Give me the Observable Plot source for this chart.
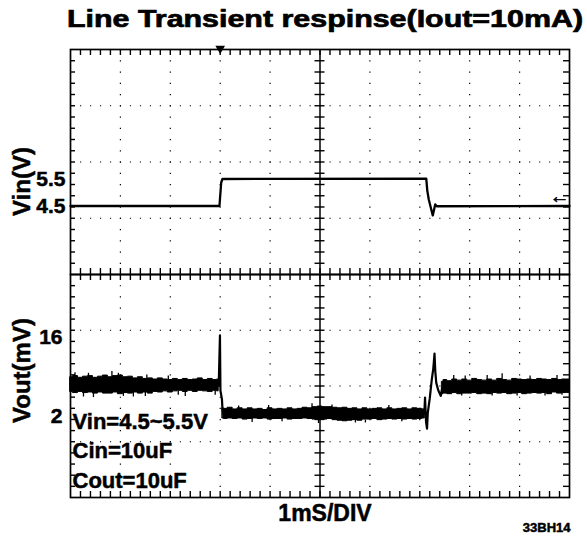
<!DOCTYPE html>
<html><head><meta charset="utf-8">
<script src="https://cdn.jsdelivr.net/npm/d3@7"></script>
<script src="https://cdn.jsdelivr.net/npm/@observablehq/plot@0.6"></script>
<style>
body{margin:0;background:#fff;}
#wrap{position:relative;width:587px;height:537px;overflow:hidden;font-family:"Liberation Sans",Arial,sans-serif;}
#title{position:absolute;left:0;top:0;}
#upper{position:absolute;left:0;top:43px;}
#lower{position:absolute;left:0;top:274px;}
</style></head><body>
<div id="wrap">
<svg id="title" width="587" height="43"><text x="67" y="27" font-family="Liberation Sans, Arial, sans-serif" font-weight="bold" font-size="24" stroke="#000" stroke-width="0.7" textLength="516" lengthAdjust="spacingAndGlyphs">Line Transient respinse(Iout=10mA)</text></svg>
<div id="upper"></div><div id="lower"></div>
</div>
<script>
// ---- data (time in ms, Vin in V, Vout ripple in mV) ----
const timeDomain = [0, 10];
const vinDomain = [1.96, 10.3];
const voutDomain = [-12.4, 27.1];
const vinTicks = [4.5, 5.5];
const voutTicks = [2, 16];
const trigTime = [3];
const trigLevel = [4.85];

const vinTime = [0, 2.985, 3.02, 3.045, 7.13, 7.15, 7.18, 7.26, 7.31, 7.34, 10];
const vinVolt = [4.5, 4.5, 5.37, 5.5, 5.51, 5.07, 4.74, 4.15, 4.56, 4.49, 4.5];

// noise band envelope of Vout (hi / lo edges), three steady segments
const bandTimeA = [0,0.1,0.2,0.3,0.4,0.5,0.6,0.7,0.8,0.9,1.0,1.1,1.2,1.3,1.4,1.5,1.6,1.7,1.8,1.9,2.0,2.1,2.2,2.3,2.4,2.5,2.6,2.7,2.8,2.9,2.97];
const bandHiA = [8.9,9.1,8.8,9.0,9.1,8.8,9.0,9.2,8.9,9.1,9.2,8.9,9.0,8.7,8.9,8.6,8.7,8.5,8.7,8.5,8.4,8.6,8.4,8.6,8.4,8.5,8.7,8.4,8.6,8.4,8.5];
const bandLoA = [6.3,6.1,6.3,6.1,6.2,6.0,6.2,6.0,6.0,6.2,5.9,6.1,6.0,6.2,6.0,6.2,6.0,6.3,6.2,6.4,6.2,6.4,6.5,6.3,6.5,6.3,6.5,6.4,6.3,6.5,6.4];

const bandTimeB = [3.05,3.1,3.2,3.3,3.4,3.5,3.6,3.7,3.8,3.9,4.0,4.1,4.2,4.3,4.4,4.5,4.6,4.7,4.8,4.9,5.0,5.1,5.2,5.3,5.4,5.5,5.6,5.7,5.8,5.9,6.0,6.1,6.2,6.3,6.4,6.5,6.6,6.7,6.8,6.9,7.0,7.1];
const bandHiB = [3.4,3.3,3.5,3.2,3.4,3.2,3.4,3.2,3.3,3.1,3.4,3.2,3.3,3.2,3.4,3.2,3.3,3.5,3.4,3.6,3.7,3.6,3.6,3.5,3.4,3.5,3.3,3.4,3.2,3.4,3.2,3.3,3.4,3.2,3.4,3.2,3.3,3.4,3.2,3.4,3.3,3.2];
const bandLoB = [1.6,1.5,1.6,1.5,1.6,1.4,1.5,1.6,1.5,1.6,1.4,1.5,1.5,1.6,1.4,1.5,1.5,1.6,1.5,1.4,1.5,1.4,1.5,1.3,1.2,1.1,1.2,1.3,1.2,1.4,1.4,1.5,1.3,1.4,1.5,1.4,1.5,1.4,1.5,1.4,1.5,1.6];

const bandTimeC = [7.45,7.5,7.6,7.7,7.8,7.9,8.0,8.1,8.2,8.3,8.4,8.5,8.6,8.7,8.8,8.9,9.0,9.1,9.2,9.3,9.4,9.5,9.6,9.7,9.8,9.9,10.0];
const bandHiC = [8.1,8.4,8.2,8.5,8.3,8.5,8.3,8.6,8.4,8.3,8.5,8.3,8.6,8.4,8.3,8.6,8.5,8.4,8.5,8.4,8.6,8.5,8.4,8.6,8.4,8.5,8.5];
const bandLoC = [5.9,6.0,5.9,6.1,5.9,6.0,6.0,6.1,5.9,6.0,5.9,6.1,6.0,6.1,5.9,6.0,6.1,5.9,6.0,6.1,6.0,6.1,5.9,6.2,6.0,6.1,6.1];

// individual noise spikes sticking out of the band
const spikeTime = [0.09,0.26,0.36,0.46,0.83,0.96,1.06,1.26,1.5,1.53,1.96,2.16,2.3,2.9,
  3.37,3.64,3.97,4.24,4.84,4.97,5.24,5.71,5.91,6.38,6.64,
  7.68,7.84,7.91,8.35,8.45,8.65,8.95,9.21,9.51,9.75,9.85];
const spikeLo = [8.5,5.4,8.6,5.3,8.8,8.7,5.5,5.4,5.5,8.5,8.3,5.7,5.5,5.7,
  2.9,0.9,3.0,1.0,3.3,0.7,3.3,0.8,0.8,3.0,1.0,
  8.0,5.6,8.2,8.3,5.6,8.4,5.6,8.3,5.6,8.4,5.7];
const spikeHi = [9.7,6.5,9.6,6.4,9.9,9.6,6.3,6.2,6.3,9.3,9.1,6.4,6.4,6.5,
  3.8,1.6,3.9,1.6,4.2,1.5,4.0,1.4,1.3,3.9,1.6,
  9.2,6.2,9.1,9.2,6.1,9.5,6.1,9.1,6.2,9.2,6.2];

// transient edges of Vout
const edge1Time = [2.97, 2.995, 3.005, 3.035, 3.045, 3.06];
const edge1Mv = [7.4, 16.3, 6.5, 5.0, 3.3, 2.5];
const edge2Time = [7.09, 7.105, 7.125, 7.145, 7.16, 7.2, 7.24, 7.27, 7.295, 7.31, 7.33, 7.37, 7.42, 7.45];
const edge2Mv = [2.4, 5.3, 1.0, -0.2, 2.6, 5.2, 8.5, 10.4, 13.1, 10.0, 7.9, 6.6, 5.6, 7.0];

const annotation = ["Vin=4.5~5.5V", "Cin=10uF", "Cout=10uF"];

// ---- build tables ----
const vin = vinTime.map((t, i) => ({t, v: vinVolt[i]}));
const band = [];
[[bandTimeA, bandHiA, bandLoA, "A"], [bandTimeB, bandHiB, bandLoB, "B"], [bandTimeC, bandHiC, bandLoC, "C"]]
  .forEach(([T, H, L, s]) => T.forEach((t, i) => band.push({t, hi: H[i], lo: L[i], seg: s})));
const spikes = spikeTime.map((t, i) => ({t, lo: spikeLo[i], hi: spikeHi[i]}));
const edges = [
  ...edge1Time.map((t, i) => ({t, v: edge1Mv[i], seg: 1})),
  ...edge2Time.map((t, i) => ({t, v: edge2Mv[i], seg: 2}))
];

// ---- graticule ----
const W = 587, ML = 70, MR = 18, FW = W - ML - MR;
const xMinor = d3.range(1, 50).map(k => k * 0.2);
const xGrid = [1, 2, 3, 4, 6, 7, 8, 9];
function grat(dom) {
  const div = (dom[1] - dom[0]) / 4;
  return {major: [1, 2, 3].map(k => dom[0] + k * div), minor: d3.range(1, 20).map(k => dom[0] + k * div / 5)};
}
const FONT = "Liberation Sans, Arial, Helvetica, sans-serif";
const ink = "#000";
const bold = {fontWeight: "bold", stroke: ink, strokeWidth: 0.5, fill: ink};

function graticuleMarks(g, FH) {
  return [
    Plot.ruleX(xGrid, {stroke: ink, strokeWidth: 1.2, strokeDasharray: `1.2,${(FH / 20 - 1.2).toFixed(3)}`}),
    Plot.ruleY(g.major, {stroke: ink, strokeWidth: 1.2, strokeDasharray: `1.2,${(FW / 50 - 1.2).toFixed(3)}`}),
    Plot.ruleX([5], {stroke: ink, strokeWidth: 1.5}),
    Plot.ruleX(xMinor, {stroke: ink, strokeWidth: 1.4, insetBottom: FH - 6}),
    Plot.ruleX(xMinor, {stroke: ink, strokeWidth: 1.4, insetTop: FH - 6}),
    Plot.ruleY(g.minor, {stroke: ink, strokeWidth: 1.4, insetRight: FW - 5}),
    Plot.ruleY(g.minor, {stroke: ink, strokeWidth: 1.4, insetLeft: FW - 6}),
    Plot.ruleY(g.minor, {x1: 5, x2: 5, stroke: ink, strokeWidth: 1.4, insetLeft: -5, insetRight: -5}),
    Plot.frame({stroke: ink, strokeWidth: 1.7})
  ];
}

// ---- upper: Vin ----
const UH = 231, UMT = 6, UFH = UH - UMT;
const gU = grat(vinDomain);
const upper = Plot.plot({
  width: W, height: UH, marginTop: UMT, marginBottom: 0, marginLeft: ML, marginRight: MR,
  style: {overflow: "visible", background: "transparent", fontFamily: FONT, color: "#000"},
  x: {domain: timeDomain, axis: null},
  y: {domain: vinDomain, axis: null},
  marks: [
    ...graticuleMarks(gU, UFH),
    Plot.line(vin, {x: "t", y: "v", stroke: ink, strokeWidth: 2.3}),
    Plot.dot(trigTime, {x: d => d, frameAnchor: "top", symbol: "triangle", rotate: 180, r: 3.6, fill: ink, stroke: null, dy: -1}),
    Plot.text(trigLevel, {y: d => d, frameAnchor: "right", text: () => "←", textAnchor: "middle", lineAnchor: "middle", dx: -10, fontSize: 20, ...bold}),
    Plot.text(vinTicks, {y: d => d, text: d => d.toFixed(1), frameAnchor: "left", textAnchor: "end", lineAnchor: "middle", dx: -5, fontSize: 21, ...bold}),
    Plot.text(["Vin(V)"], {text: d => d, frameAnchor: "left", textAnchor: "middle", lineAnchor: "middle", rotate: -90, dx: -48, dy: 19.5, fontSize: 24, ...bold})
  ]
});
document.getElementById("upper").append(upper);

// ---- lower: Vout ----
const LH = 263, LMB = 40, LFH = LH - LMB;
const gL = grat(voutDomain);
const lower = Plot.plot({
  width: W, height: LH, marginTop: 0, marginBottom: LMB, marginLeft: ML, marginRight: MR,
  style: {overflow: "visible", background: "transparent", fontFamily: FONT, color: "#000"},
  x: {domain: timeDomain, axis: null},
  y: {domain: voutDomain, axis: null},
  marks: [
    ...graticuleMarks(gL, LFH),
    Plot.areaY(band, {x: "t", y1: "lo", y2: "hi", z: "seg", curve: "step", fill: ink, stroke: ink, strokeWidth: 1}),
    Plot.ruleX(spikes, {x: "t", y1: "lo", y2: "hi", stroke: ink, strokeWidth: 1.3}),
    Plot.line(edges, {x: "t", y: "v", z: "seg", stroke: ink, strokeWidth: 2.2}),
    Plot.text(voutTicks, {y: d => d, text: d => String(d), frameAnchor: "left", textAnchor: "end", lineAnchor: "middle", dx: -8, fontSize: 21, ...bold}),
    Plot.text(["Vout(mV)"], {text: d => d, frameAnchor: "left", textAnchor: "middle", lineAnchor: "middle", rotate: -90, dx: -48, dy: -15.5, fontSize: 24, ...bold}),
    Plot.text([annotation.join("\n")], {text: d => d, frameAnchor: "bottom-left", textAnchor: "start", lineAnchor: "bottom", lineHeight: 1.34, dx: 2, dy: -10, fontSize: 22, ...bold}),
    Plot.text(["1mS/DIV"], {text: d => d, frameAnchor: "bottom", textAnchor: "middle", lineAnchor: "middle", dx: 5, dy: 16, fontSize: 23, ...bold}),
    Plot.text(["33BH14"], {text: d => d, frameAnchor: "bottom-right", textAnchor: "end", lineAnchor: "middle", dx: 1, dy: 30, fontSize: 13, ...bold})
  ]
});
document.getElementById("lower").append(lower);
</script>
</body></html>
